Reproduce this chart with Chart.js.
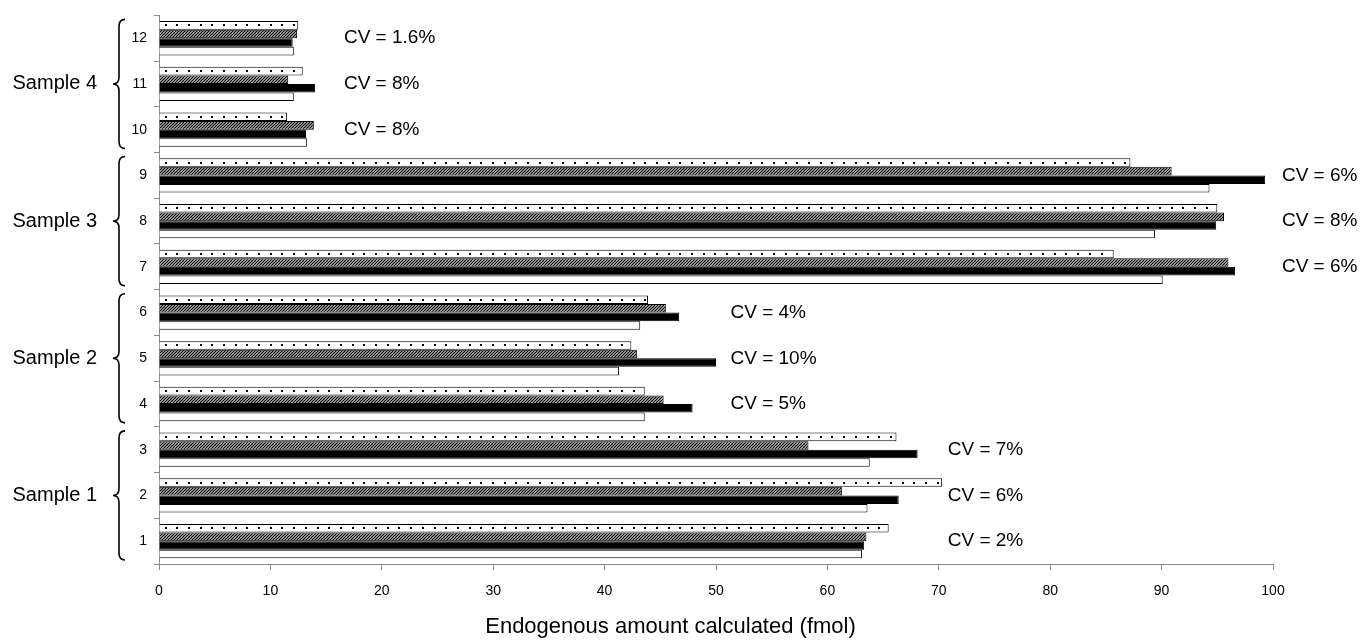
<!DOCTYPE html>
<html>
<head>
<meta charset="utf-8">
<script src="https://cdn.jsdelivr.net/npm/chart.js@4"></script>
<style>
  html, body { margin: 0; padding: 0; background: #ffffff; }
  canvas { display: block; }
</style>
</head>
<body>
<canvas id="chart" width="1361" height="643"></canvas>
<script>
// Run numbers, bottom to top
const categories = ['1', '2', '3', '4', '5', '6', '7', '8', '9', '10', '11', '12'];

// Endogenous amount (fmol) per run, four replicate series
const dottedSeries  = [65.5, 70.3, 66.2, 43.6, 42.4, 43.9, 85.7, 95.0, 87.2, 11.5, 12.9, 12.5];
const hatchedSeries = [63.5, 61.3, 58.3, 45.3, 42.9, 45.5, 96.0, 95.6, 90.9, 13.9, 11.6, 12.4];
const solidSeries   = [63.3, 66.4, 68.1, 47.9, 50.0, 46.7, 96.6, 94.9, 99.3, 13.2, 14.0, 12.0];
const openSeries    = [63.1, 63.6, 63.8, 43.6, 41.3, 43.2, 90.1, 89.4, 94.3, 13.3, 12.1, 12.1];

// Coefficient of variation per run
const cvValues = ['2%', '6%', '7%', '5%', '10%', '4%', '6%', '8%', '6%', '8%', '8%', '1.6%'];

// Samples and the runs they cover
const sampleNames = ['Sample 1', 'Sample 2', 'Sample 3', 'Sample 4'];
const sampleRuns  = [['1', '3'], ['4', '6'], ['7', '9'], ['10', '12']];

// Value axis tick labels
const xTicks = [0, 10, 20, 30, 40, 50, 60, 70, 80, 90, 100];
const xTitle = 'Endogenous amount calculated (fmol)';

const FONT = "'Liberation Sans', Arial, Helvetica, sans-serif";
const AXIS_GREY = '#8a8a8a';

// Diagonal hatch fill
function makeHatch() {
  const n = 3;
  const c = document.createElement('canvas');
  c.width = n; c.height = n;
  const g = c.getContext('2d');
  g.fillStyle = '#ffffff';
  g.fillRect(0, 0, n, n);
  g.strokeStyle = '#000000';
  g.lineWidth = 1.3;
  g.beginPath();
  g.moveTo(-1, n + 1); g.lineTo(n + 1, -1);
  g.moveTo(-1, 1); g.lineTo(1, -1);
  g.moveTo(n - 1, n + 1); g.lineTo(n + 1, n - 1);
  g.stroke();
  return g.createPattern(c, 'repeat');
}

const ctx = document.getElementById('chart').getContext('2d');
const hatch = makeHatch();

// Dots inside the dotted bars, curly braces with sample names, CV notes and the axis title
const decorations = {
  id: 'decorations',
  afterDatasetsDraw(chart, args, opts) {
    const g = chart.ctx;
    const meta = chart.getDatasetMeta(0);
    g.save();
    g.fillStyle = '#000000';
    meta.data.forEach(el => {
      const p = el.getProps(['x', 'y', 'base'], true);
      for (let x = p.base + 5; x < p.x - 3; x += opts.dotStep) {
        g.fillRect(Math.round(x), Math.round(p.y - 1), 2, 2);
      }
    });
    g.restore();
  },
  afterDraw(chart, args, opts) {
    const g = chart.ctx;
    const y = chart.scales.y;
    const x = chart.scales.x;
    const left = chart.chartArea.left;
    const half = (y.getPixelForValue(0) - y.getPixelForValue(1)) / 2;
    g.save();

    sampleRuns.forEach((run, i) => {
      const i0 = categories.indexOf(run[0]);
      const i1 = categories.indexOf(run[1]);
      const a = y.getPixelForValue(i0);
      const b = y.getPixelForValue(i1);
      const yB = Math.max(a, b) + half - 4;
      const yT = Math.min(a, b) - half + 4;
      const yM = (yT + yB) / 2;
      const xEnd = left - 34, xSp = left - 40, xTip = left - 46, r = 7;

      // brace
      g.strokeStyle = '#000000';
      g.lineWidth = 1.6;
      g.beginPath();
      g.moveTo(xEnd, yT);
      g.quadraticCurveTo(xSp, yT, xSp, yT + r);
      g.lineTo(xSp, yM - r);
      g.quadraticCurveTo(xSp, yM, xTip, yM);
      g.quadraticCurveTo(xSp, yM, xSp, yM + r);
      g.lineTo(xSp, yB - r);
      g.quadraticCurveTo(xSp, yB, xEnd, yB);
      g.stroke();

      // sample name
      g.fillStyle = '#000000';
      g.font = opts.sampleFont;
      g.textAlign = 'right';
      g.textBaseline = 'middle';
      g.fillText(sampleNames[i], left - 62, yM);

      // CV notes for the runs of this sample
      g.font = opts.cvFont;
      g.textAlign = 'left';
      for (let k = i0; k <= i1; k++) {
        g.fillText('CV = ' + cvValues[k], x.getPixelForValue(opts.cvAnchor[i]), y.getPixelForValue(k));
      }
    });

    // value axis title
    g.font = opts.titleFont;
    g.textAlign = 'center';
    g.textBaseline = 'middle';
    g.fillText(xTitle, chart.width / 2 - 10, chart.height - 16);
    g.restore();
  }
};

new Chart(ctx, {
  type: 'bar',
  data: {
    labels: categories,
    datasets: [
      { label: 'Replicate A', data: dottedSeries,  backgroundColor: '#ffffff', borderColor: '#000000', borderWidth: 1 },
      { label: 'Replicate B', data: hatchedSeries, backgroundColor: hatch,     borderColor: '#000000', borderWidth: 1 },
      { label: 'Replicate C', data: solidSeries,   backgroundColor: '#000000', borderColor: '#000000', borderWidth: 1 },
      { label: 'Replicate D', data: openSeries,    backgroundColor: '#ffffff', borderColor: '#000000', borderWidth: 1 }
    ]
  },
  options: {
    indexAxis: 'y',
    responsive: false,
    animation: false,
    devicePixelRatio: 1,
    datasets: { bar: { categoryPercentage: 0.75, barPercentage: 1.0 } },
    layout: { padding: { top: 14, right: 88, bottom: 0, left: 0 } },
    plugins: {
      legend: { display: false },
      tooltip: { enabled: false },
      decorations: {
        dotStep: 11.7,
        sampleFont: '20px ' + FONT,
        cvFont: '19px ' + FONT,
        titleFont: '22px ' + FONT,
        cvAnchor: [70.8, 51.3, 100.8, 16.6]
      }
    },
    scales: {
      x: {
        type: 'linear',
        min: 0,
        max: 100,
        afterBuildTicks: s => { s.ticks = xTicks.map(v => ({ value: v })); },
        afterFit: s => { s.height = 79; },
        grid: { drawOnChartArea: false, drawTicks: true, tickLength: 6, color: AXIS_GREY },
        border: { color: AXIS_GREY, width: 1 },
        ticks: { color: '#000000', font: { family: FONT, size: 14 }, padding: 13, maxRotation: 0 }
      },
      y: {
        type: 'category',
        reverse: true,
        afterFit: s => { s.width = 159; },
        grid: { drawOnChartArea: false, offset: true, tickLength: 5, color: AXIS_GREY },
        border: { color: AXIS_GREY, width: 1 },
        ticks: { color: '#000000', font: { family: FONT, size: 14 }, padding: 7 }
      }
    }
  },
  plugins: [decorations]
});
</script>
</body>
</html>
